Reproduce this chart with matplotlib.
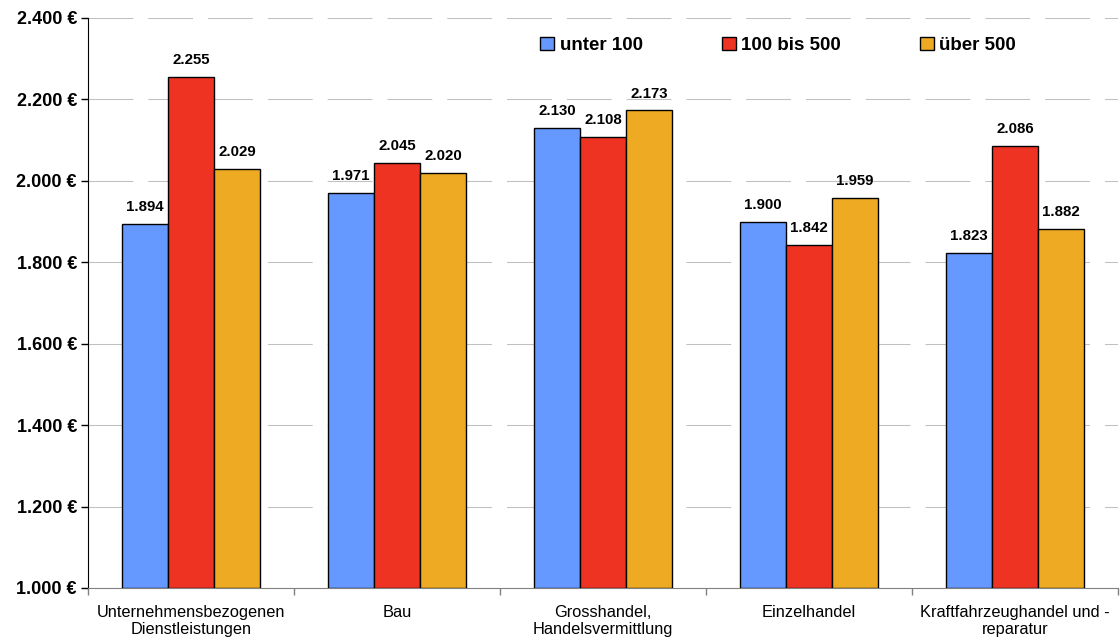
import matplotlib
matplotlib.use("Agg")
import matplotlib.pyplot as plt
from matplotlib.ticker import FuncFormatter, FixedLocator
import numpy as np

categories = ["Unternehmensbezogenen\nDienstleistungen", "Bau", "Grosshandel,\nHandelsvermittlung",
              "Einzelhandel", "Kraftfahrzeughandel und -\nreparatur"]
series_names = ["unter 100", "100 bis 500", "über 500"]
unter_100 = [1894, 1971, 2130, 1900, 1823]
bis_500 = [2255, 2045, 2108, 1842, 2086]
ueber_500 = [2029, 2020, 2173, 1959, 1882]
yticks = [1000, 1200, 1400, 1600, 1800, 2000, 2200, 2400]

colors = ["#6699FF", "#EE3322", "#EEAA22"]

plt.rcParams['font.family'] = ['Liberation Sans', 'DejaVu Sans']

fig = plt.figure(figsize=(11.2, 6.44), dpi=100)
ax = fig.add_axes([88 / 1120, 1 - 588 / 644, 1030 / 1120, 570 / 644])

x = np.arange(len(categories))
w = 0.223
for i, vals in enumerate([unter_100, bis_500, ueber_500]):
    pos = x + (i - 1) * w
    ax.bar(pos, np.array(vals) - 1000, bottom=1000, width=w, color=colors[i],
           edgecolor="black", linewidth=1.0, label=series_names[i], zorder=3)
    for p, v in zip(pos, vals):
        ax.annotate(f"{v / 1000:.3f}", (p, v), xytext=(0, 7), textcoords="offset points",
                    ha="center", va="bottom", fontsize=10.8, fontweight="bold")

ax.set_xlim(-0.5, len(categories) - 0.5)
ax.set_ylim(1000, 2400)
ax.set_yticks(yticks)
ax.yaxis.set_major_formatter(FuncFormatter(lambda v, _: f"{v / 1000:.3f} €"))
for lab in ax.get_yticklabels():
    lab.set_fontweight("bold")
    lab.set_fontsize(13)
ax.tick_params(axis="y", length=5, width=1, pad=3)

ax.set_xticks(x)
ax.set_xticklabels(categories, fontsize=11.8)
ax.tick_params(axis="x", which="major", length=0, pad=12)
ax.xaxis.set_minor_locator(FixedLocator(np.arange(-0.5, len(categories), 1.0)))
ax.tick_params(axis="x", which="minor", length=5, width=1, color="#808080")

ax.yaxis.grid(True, color="#C0C0C0", linestyle=(0, (43, 14.4)), linewidth=0.75, zorder=0)
ax.spines["top"].set_visible(False)
ax.spines["right"].set_visible(False)
ax.spines["bottom"].set_color("#808080")
ax.spines["left"].set_color("black")

leg = ax.legend(loc="upper right", ncol=3, frameon=False, bbox_to_anchor=(0.9175, 0.997),
                prop={"weight": "bold", "size": 13.5}, handlelength=0.75, handleheight=0.75,
                handletextpad=0.3, columnspacing=4.2)
for h in leg.legend_handles:
    h.set_linewidth(1.0)

fig.savefig("out.png", dpi=100)
